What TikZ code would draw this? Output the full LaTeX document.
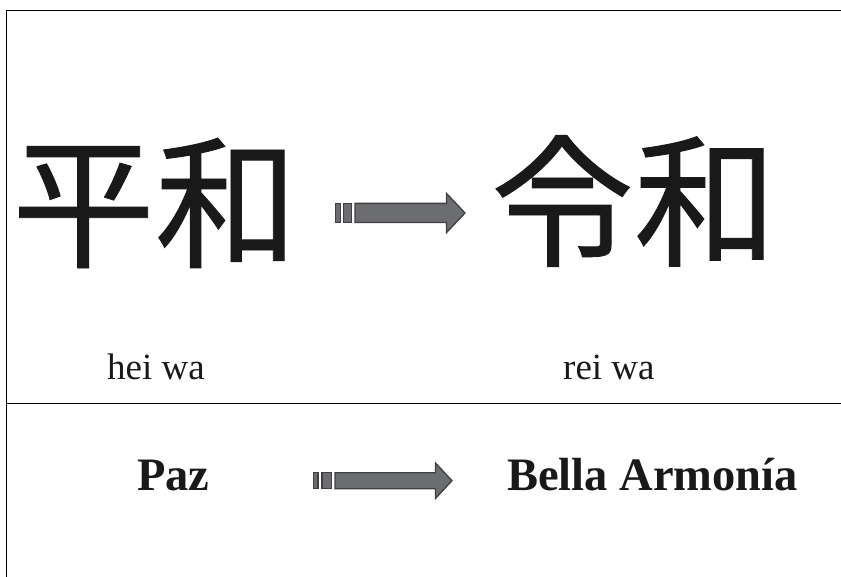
\documentclass[tikz,border=0pt]{standalone}
\usepackage{fontspec}
\setmainfont{Liberation Serif}
\newfontfamily\cjk{Noto Sans CJK JP}[FakeBold=0.6]
\definecolor{arrfill}{RGB}{108,109,113}
\definecolor{arrdraw}{RGB}{64,64,66}
\tikzset{
  rule/.style={line width=1.1pt, black},
  kanji/.style={font=\cjk\fontsize{143}{143}\selectfont, inner sep=0pt, text=black!90},
  reading/.style={font=\fontsize{37}{37}\selectfont, inner sep=0pt, anchor=base west, text=black!90},
  meaning/.style={font=\bfseries\fontsize{46.5}{46.5}\selectfont, inner sep=0pt, anchor=base west, text=black!90},
  arrbody/.style={fill=arrfill, draw=arrdraw, line width=1.3pt, line join=miter},
}
\begin{document}
\begin{tikzpicture}[x=1pt,y=-1pt]
\useasboundingbox (0,0) rectangle (841,577);
% frame
\coordinate (tl) at (6.3,10.3);
\coordinate (tr) at (841,10.3);
\coordinate (bl) at (6.3,577);
\coordinate (ml) at (6.3,403.3);
\coordinate (mr) at (841,403.3);
\draw[rule] (tr) -- (tl) -- (bl);
\draw[rule] (ml) -- (mr);
% kanji
\node[kanji] (heiwa) at (155,203) {平和};
\node[kanji] (reiwa) at (634,201) {令和};
% readings
\node[reading] (hei) at (107,379) {hei wa};
\node[reading] (rei) at (563,379) {rei wa};
% meanings
\node[meaning] (paz) at (137,490) {Paz};
\node[meaning] (bella) at (507,490) {Bella Armonía};
% top arrow
\begin{scope}[shift={(0,213)}]
\draw[arrbody] (335.4,-9.6) rectangle (340.6,9.6);
\draw[arrbody] (343.4,-9.6) rectangle (351.6,9.6);
\draw[arrbody] (355,-9.6) -- (446.5,-9.6) -- (446.5,-19.6) -- (465,0) -- (446.5,19.6) -- (446.5,9.6) -- (355,9.6) -- cycle;
\end{scope}
% bottom arrow
\begin{scope}[shift={(0,480.7)}]
\draw[arrbody] (313.4,-8) rectangle (318,8);
\draw[arrbody] (322,-8) rectangle (331.6,8);
\draw[arrbody] (335,-8) -- (435.5,-8) -- (435.5,-17.7) -- (452,0) -- (435.5,17.7) -- (435.5,8) -- (335,8) -- cycle;
\end{scope}
\end{tikzpicture}
\end{document}
